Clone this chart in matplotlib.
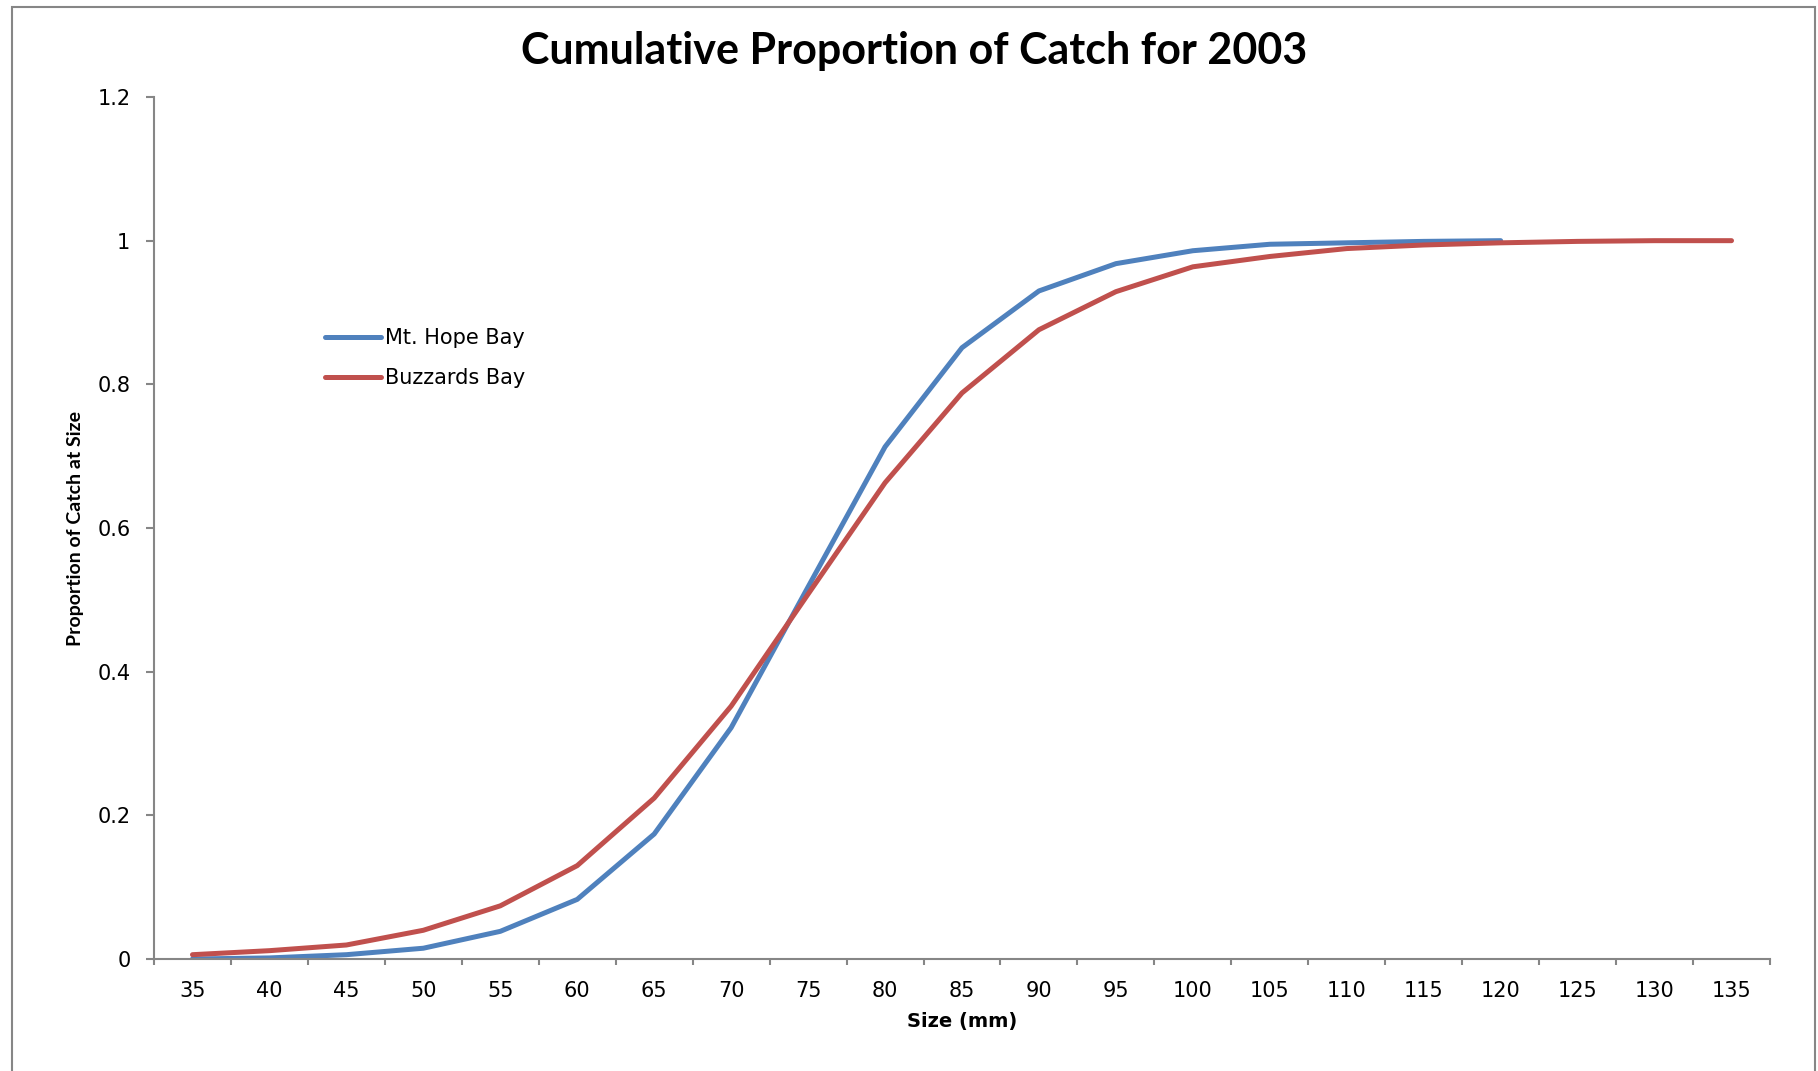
import matplotlib
matplotlib.use("Agg")
import matplotlib.pyplot as plt
from matplotlib.patches import Rectangle

# Data
sizes = [35, 40, 45, 50, 55, 60, 65, 70, 75, 80, 85, 90, 95, 100, 105, 110, 115, 120, 125, 130, 135]
mt_hope = [0.0, 0.0015, 0.006, 0.015, 0.0385, 0.083, 0.174, 0.322, 0.518, 0.713, 0.851,
           0.930, 0.968, 0.986, 0.995, 0.997, 0.999, 1.0]
buzzards = [0.006, 0.0116, 0.0195, 0.040, 0.074, 0.130, 0.224, 0.352, 0.508, 0.663, 0.788,
            0.876, 0.929, 0.9636, 0.978, 0.989, 0.994, 0.997, 0.999, 1.0, 1.0]
y_ticks = [0, 0.2, 0.4, 0.6, 0.8, 1.0, 1.2]
y_tick_labels = ["0", "0.2", "0.4", "0.6", "0.8", "1", "1.2"]

BLUE = "#4F81BD"
RED = "#C0504D"
GREY = "#868686"

fig = plt.figure(figsize=(18.18, 10.71), dpi=100)
ax = fig.add_axes([154 / 1818, 1 - 959 / 1071, 1616 / 1818, 862 / 1071])

x_blue = list(range(len(mt_hope)))
x_red = list(range(len(buzzards)))
ax.plot(x_blue, mt_hope, color=BLUE, lw=3.6, label="Mt. Hope Bay", solid_capstyle="round")
ax.plot(x_red, buzzards, color=RED, lw=3.6, label="Buzzards Bay", solid_capstyle="round")

ax.set_xlim(-0.5, len(sizes) - 0.5)
ax.set_ylim(0, 1.2)

# spines
for s in ["top", "right"]:
    ax.spines[s].set_visible(False)
for s in ["left", "bottom"]:
    ax.spines[s].set_color(GREY)
    ax.spines[s].set_linewidth(1.5)

# x axis: category labels, tick marks between categories
ax.set_xticks(range(len(sizes)))
ax.set_xticklabels([str(s) for s in sizes])
ax.set_xticks([i - 0.5 for i in range(len(sizes) + 1)], minor=True)
ax.tick_params(axis="x", which="major", length=0, pad=16, labelsize=15)
ax.tick_params(axis="x", which="minor", length=4, width=1.5, color=GREY)

ax.set_yticks(y_ticks)
ax.set_yticklabels(y_tick_labels)
ax.tick_params(axis="y", length=6, width=1.5, color=GREY, pad=11, labelsize=15)

ax.set_xlabel("Size (mm)", fontsize=14, fontweight="bold")
ax.xaxis.set_label_coords(0.5, -(1022 - 959) / 862)
ax.xaxis.label.set_va("center")

ax.set_ylabel("Proportion of Catch at Size", fontsize=14, fontweight="bold",
              family=["Lato", "DejaVu Sans"])
ax.yaxis.label.set_va("center")
ax.yaxis.set_label_coords((75 - 154) / 1616, 0.5)

fig.text(0.503, 1 - 51 / 1071, "Cumulative Proportion of Catch for 2003",
         fontsize=31, fontweight="bold", family=["Lato", "DejaVu Sans"],
         ha="center", va="center")

ax.legend(loc="center left", bbox_to_anchor=((325 - 154) / 1616, (959 - 358) / 862),
          frameon=False, fontsize=15, handlelength=2.7, handletextpad=0.2,
          labelspacing=0.95, borderpad=0, borderaxespad=0)

# outer chart border
fig.patches.append(Rectangle((12 / 1818, -0.05), (1815 - 12) / 1818, 1.05 - 7 / 1071,
                             transform=fig.transFigure, fill=False,
                             edgecolor=GREY, lw=1.5))

fig.savefig("out.png", dpi=100)
